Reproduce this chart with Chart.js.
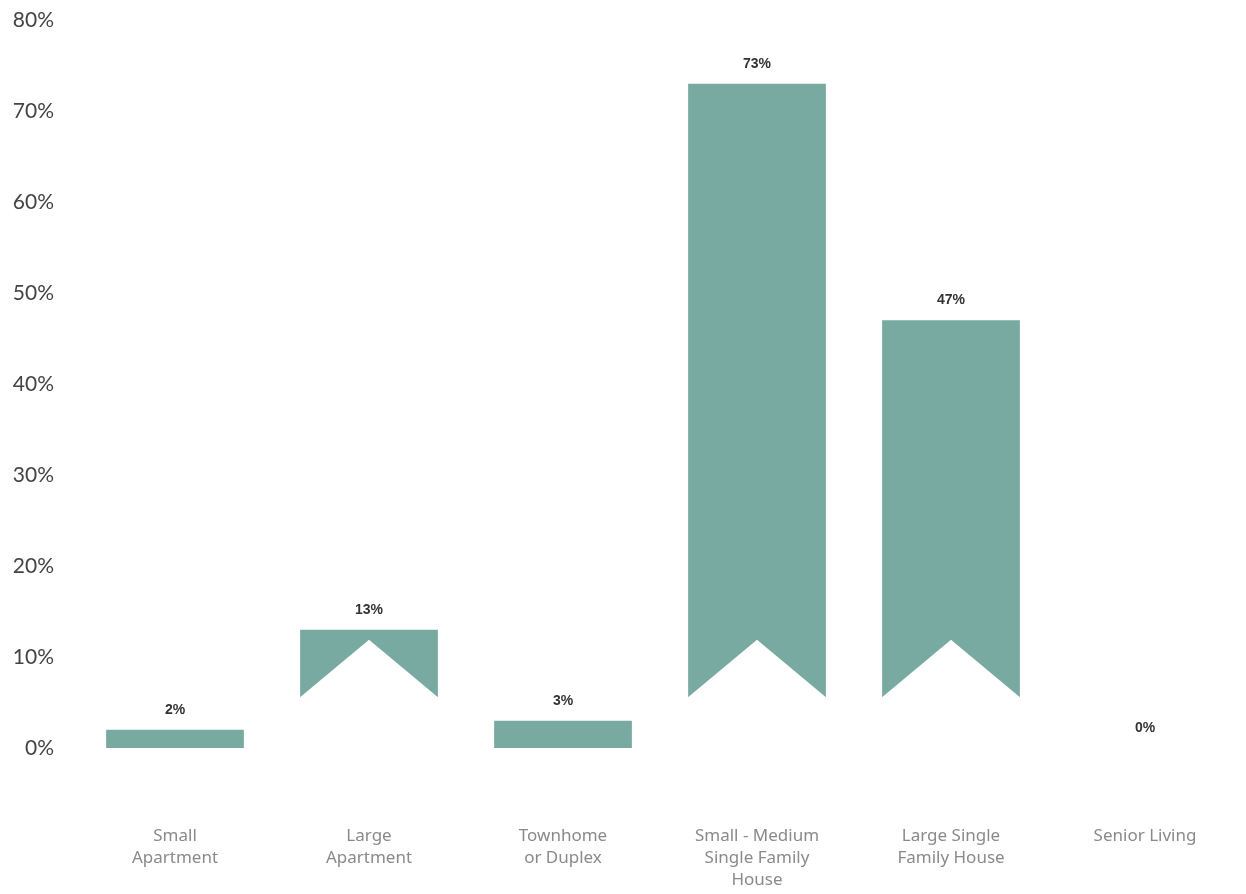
<!DOCTYPE html>
<html>
<head>
<meta charset="utf-8">
<script src="https://cdn.jsdelivr.net/npm/chart.js@4/dist/chart.umd.min.js"></script>
<style>
    html, body { margin: 0; padding: 0; background: #fff; overflow: hidden; }
    canvas { display: block; }
</style>
</head>
<body>
<canvas id="chart" width="1246" height="894"></canvas>
<script>
const categories = [
    ['Small', 'Apartment'],
    ['Large', 'Apartment'],
    ['Townhome', 'or Duplex'],
    ['Small - Medium', 'Single Family', 'House'],
    ['Large Single', 'Family House'],
    ['Senior Living']
];
const shares = [2, 13, 3, 73, 47, 0];
const yTicks = [0, 10, 20, 30, 40, 50, 60, 70, 80];

// ribbon notch at the foot of the tall bars (in axis units)
const notchBase = 5.5;
const notchApex = 11.9;

const barColor = '#79aaa2';

// cut the ribbon tails out of the taller bars
const ribbonPlugin = {
    id: 'ribbon',
    afterDatasetsDraw(chart) {
        const ctx = chart.ctx;
        const y = chart.scales.y;
        const meta = chart.getDatasetMeta(0);
        meta.data.forEach(function(bar, i) {
            if (shares[i] <= notchApex) return;
            const half = bar.width / 2;
            const left = bar.x - half - 1;
            const right = bar.x + half + 1;
            const yBase = y.getPixelForValue(notchBase);
            const yApex = y.getPixelForValue(notchApex);
            const yZero = y.getPixelForValue(0) + 2;
            ctx.save();
            ctx.fillStyle = '#ffffff';
            ctx.beginPath();
            ctx.moveTo(left, yBase);
            ctx.lineTo(bar.x, yApex);
            ctx.lineTo(right, yBase);
            ctx.lineTo(right, yZero);
            ctx.lineTo(left, yZero);
            ctx.closePath();
            ctx.fill();
            ctx.restore();
        });
    }
};

// value labels above each bar
const valueLabels = {
    id: 'valueLabels',
    afterDatasetsDraw(chart) {
        const ctx = chart.ctx;
        const meta = chart.getDatasetMeta(0);
        ctx.save();
        ctx.font = 'bold 14px "Liberation Sans", Arial, sans-serif';
        ctx.fillStyle = '#333333';
        ctx.textAlign = 'center';
        ctx.textBaseline = 'middle';
        meta.data.forEach(function(bar, i) {
            ctx.fillText(shares[i] + '%', bar.x, bar.y - 20);
        });
        ctx.restore();
    }
};

new Chart(document.getElementById('chart'), {
    type: 'bar',
    data: {
        labels: categories,
        datasets: [{
            data: shares,
            backgroundColor: barColor,
            borderWidth: 0,
            barPercentage: 0.71,
            categoryPercentage: 1.0
        }]
    },
    options: {
        responsive: false,
        animation: false,
        devicePixelRatio: 1,
        layout: { padding: { top: 20, right: 4, left: 0, bottom: 0 } },
        plugins: {
            legend: { display: false },
            tooltip: { enabled: false }
        },
        scales: {
            x: {
                afterFit(scale) {
                    scale.height = 146;
                    scale.paddingLeft = 0;
                    scale.paddingRight = 0;
                },
                grid: { display: false, drawTicks: false },
                border: { display: false },
                ticks: {
                    padding: 77,
                    maxRotation: 0,
                    autoSkip: false,
                    color: '#8a8a8a',
                    font: { family: '"Noto Sans", sans-serif', size: 17, lineHeight: 1.3 }
                }
            },
            y: {
                min: 0,
                max: 80,
                afterFit(scale) {
                    scale.width = 78;
                    scale.paddingTop = 0;
                    scale.paddingBottom = 0;
                },
                afterBuildTicks(scale) { scale.ticks = yTicks.map(v => ({ value: v })); },
                grid: { display: false, drawTicks: false },
                border: { display: false },
                ticks: {
                    padding: 24,
                    color: '#444444',
                    font: { family: 'Lato, "Open Sans", sans-serif', size: 21 },
                    callback: v => v + '%'
                }
            }
        }
    },
    plugins: [ribbonPlugin, valueLabels]
});
</script>
</body>
</html>
